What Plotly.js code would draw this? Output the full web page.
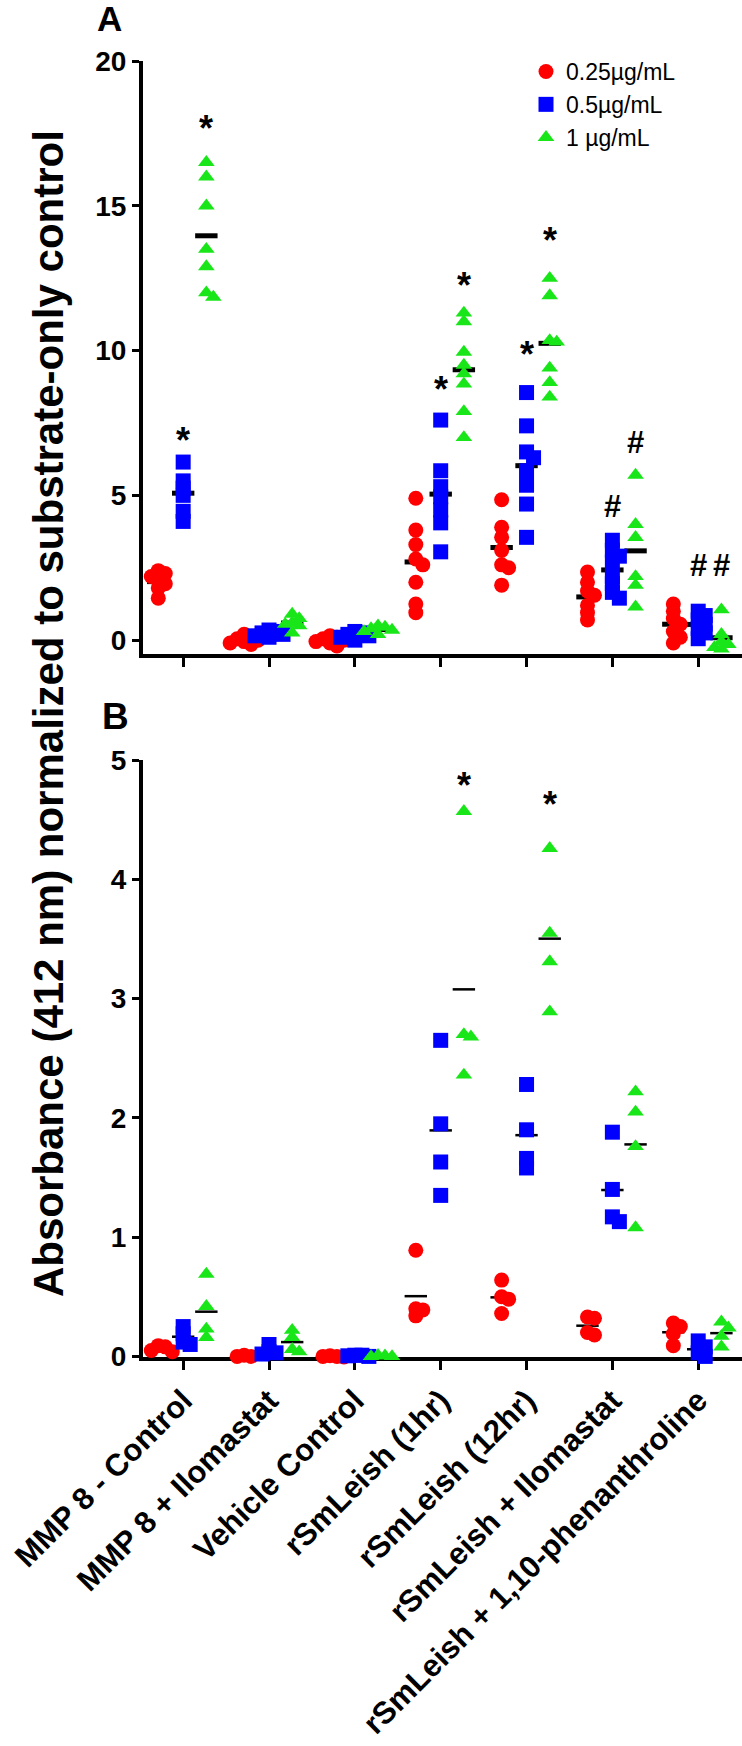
<!DOCTYPE html>
<html><head><meta charset="utf-8">
<script src="https://cdn.plot.ly/plotly-3.0.1.min.js"></script>
<style>html,body{margin:0;padding:0;background:#fff}#chart{width:742px;height:1746px}</style>
</head><body><div id="chart"></div>
<script>
const categories = ['MMP 8 - Control','MMP 8 + Ilomastat','Vehicle Control','rSmLeish (1hr)','rSmLeish (12hr)','rSmLeish + Ilomastat','rSmLeish + 1,10-phenanthroline'];
const seriesNames = ['0.25\u00b5g/mL','0.5\u00b5g/mL','1 \u00b5g/mL'];
const seriesColors = ['#ff0000','#0000ff','#19e619'];
const seriesSymbols = ['circle','square','triangle-up'];

// Panel A values (per category)
const aLow = [
 [2.4, 2.3, 2.2, 2.05, 1.95, 1.8, 1.45],
 [0.2, 0.1, 0.05, 0.0, -0.05, -0.1, -0.15],
 [0.15, 0.1, 0.05, 0.0, -0.05, -0.1, -0.2],
 [4.9, 3.8, 3.3, 2.8, 2.6, 2.0, 1.25, 0.95],
 [4.85, 3.9, 3.55, 3.1, 2.6, 2.5, 1.9],
 [2.35, 2.0, 1.7, 1.55, 1.2, 0.95, 0.7],
 [1.25, 1.0, 0.75, 0.55, 0.3, 0.1, -0.1]
];
const aMid = [
 [6.15, 5.5, 5.25, 5.0, 4.45, 4.1],
 [0.35, 0.3, 0.25, 0.2, 0.15, 0.1],
 [0.3, 0.25, 0.2, 0.15, 0.1, 0.0],
 [7.6, 5.85, 5.3, 4.95, 4.5, 4.05, 3.05],
 [8.55, 7.4, 6.5, 6.3, 5.85, 5.35, 4.7, 3.55],
 [3.45, 3.1, 2.9, 2.7, 2.2, 1.95, 1.65, 1.45],
 [1.0, 0.85, 0.7, 0.55, 0.4, 0.25, 0.05]
];
const aHigh = [
 [16.5, 16.0, 15.0, 13.5, 12.9, 12.0, 11.85],
 [0.9, 0.75, 0.6, 0.55, 0.5, 0.25],
 [0.5, 0.45, 0.4, 0.35, 0.3, 0.2],
 [11.3, 11.0, 9.95, 9.5, 9.2, 8.85, 7.9, 7.0],
 [12.5, 11.9, 10.35, 10.3, 9.4, 8.9, 8.4],
 [5.7, 4.0, 3.55, 2.2, 1.9, 1.15],
 [1.05, 0.2, -0.05, -0.15, -0.25, -0.3]
];
// Panel B values (per category)
const bLow = [
 [0.09, 0.08, 0.05, 0.04],
 [0.01, 0.0, 0.0, -0.01],
 [0.005, 0.0, 0.0, -0.005],
 [0.89, 0.40, 0.39, 0.34],
 [0.64, 0.50, 0.48, 0.36],
 [0.33, 0.32, 0.20, 0.18],
 [0.28, 0.25, 0.19, 0.09]
];
const bMid = [
 [0.25, 0.19, 0.12, 0.10],
 [0.10, 0.04, 0.03, 0.02],
 [0.01, 0.01, 0.005, 0.0],
 [2.65, 1.95, 1.63, 1.35],
 [2.28, 1.90, 1.66, 1.58],
 [1.88, 1.40, 1.17, 1.13],
 [0.13, 0.08, 0.03, 0.0]
];
const bHigh = [
 [0.69, 0.42, 0.23, 0.16],
 [0.22, 0.16, 0.06, 0.04],
 [0.01, 0.005, 0.0, 0.0],
 [4.57, 2.70, 2.68, 2.36],
 [4.26, 3.55, 3.31, 2.89],
 [2.22, 2.05, 1.76, 1.08],
 [0.29, 0.24, 0.17, 0.08]
];
// significance marks
const aMarkCat = [0, 0, 3, 3, 4, 4, 5, 5, 6, 6];
const aMarkSeries = [1, 2, 1, 2, 1, 2, 1, 2, 1, 2];
const aMarkText = ['*', '*', '*', '*', '*', '*', '#', '#', '#', '#'];
const aMarkY = [7.25, 18.0, 9.0, 12.6, 10.2, 14.15, 4.7, 6.9, 2.65, 2.65];
const bMarkCat = [3, 4];
const bMarkSeries = [2, 2];
const bMarkText = ['*', '*'];
const bMarkY = [4.87, 4.71];

const seriesOffset = [-0.29, 0, 0.27];
const FONT = 'Liberation Sans, Arial, Helvetica, sans-serif';

// layout geometry (px)
const W = 742, H = 1746, ML = 143, MT = 61, MB = 389;
const plotW = W - ML, plotH = H - MT - MB;
const xRange = [-0.468, 6.51];
const aRange = [-0.48, 20];
const bRange = [-0.005, 5];
const aDom = [0.5424, 1];
const bDom = [0, 0.4606];
const pxX = plotW / (xRange[1] - xRange[0]);
const pxYA = plotH * (aDom[1] - aDom[0]) / (aRange[1] - aRange[0]);
const pxYB = plotH * (bDom[1] - bDom[0]) / (bRange[1] - bRange[0]);

function swarm(vals, pxY) {
  const idx = vals.map((v, i) => i).sort((a, b) => vals[b] - vals[a]);
  const placed = [];
  const off = new Array(vals.length).fill(0);
  const steps = [0, 7, -7, 14, -14];
  idx.forEach(i => {
    let best = null, bestD = -1;
    for (const s of steps) {
      let md = Infinity;
      placed.forEach(p => {
        const dx = s - p.x, dy = (vals[i] - p.v) * pxY;
        md = Math.min(md, Math.sqrt(dx * dx + dy * dy));
      });
      if (md >= 7) { best = s; bestD = md; break; }
      if (md > bestD) { bestD = md; best = s; }
    }
    off[i] = best / pxX;
    placed.push({ x: best, v: vals[i] });
  });
  return off;
}
const mean = a => a.reduce((s, v) => s + v, 0) / a.length;

const traces = [];
function addPanel(data, xa, ya, pxY, meanW, showLeg) {
  data.forEach((ser, si) => {
    traces.push({
      type: 'scatter', mode: 'markers', xaxis: xa, yaxis: ya, showlegend: false, cliponaxis: false,
      x: ser.map((g, gi) => gi + seriesOffset[si]), y: ser.map(mean),
      marker: { symbol: 'line-ew', size: 16, line: { width: meanW, color: '#000' } }, hoverinfo: 'skip'
    });
  });
  data.forEach((ser, si) => {
    const xs = [], ys = [];
    ser.forEach((g, gi) => {
      const off = swarm(g, pxY);
      g.forEach((v, k) => { xs.push(gi + seriesOffset[si] + off[k]); ys.push(v); });
    });
    traces.push({
      type: 'scatter', mode: 'markers', xaxis: xa, yaxis: ya, name: seriesNames[si],
      showlegend: showLeg, cliponaxis: false, x: xs, y: ys,
      marker: { symbol: seriesSymbols[si], color: seriesColors[si], size: si === 2 ? 14.5 : 15, line: { width: 0 } }
    });
  });
}
addPanel([aLow, aMid, aHigh], 'x', 'y', pxYA, 5, true);
addPanel([bLow, bMid, bHigh], 'x2', 'y2', pxYB, 2.5, false);

const annotations = [];
function addMarks(cats, sers, texts, ys, xr, yr) {
  cats.forEach((c, i) => {
    const star = texts[i] === '*';
    annotations.push({
      xref: xr, yref: yr, x: c + seriesOffset[sers[i]], y: ys[i], text: texts[i], showarrow: false,
      xanchor: 'center', yanchor: 'middle', yshift: star ? -10 : -2,
      font: { family: FONT, size: star ? 36 : 31, color: '#000', weight: 700 }
    });
  });
}
addMarks(aMarkCat, aMarkSeries, aMarkText, aMarkY, 'x', 'y');
addMarks(bMarkCat, bMarkSeries, bMarkText, bMarkY, 'x2', 'y2');

annotations.push({ xref: 'paper', yref: 'paper', x: (48 - ML) / plotW, y: (H - MB - 714) / plotH,
  xanchor: 'center', yanchor: 'middle', textangle: -90, showarrow: false,
  text: 'Absorbance (412 nm) normalized to substrate-only control',
  font: { family: FONT, size: 42, color: '#000', weight: 700 } });
annotations.push({ xref: 'paper', yref: 'paper', x: (109 - ML) / plotW, y: 1 + (MT - 19) / plotH,
  xanchor: 'center', yanchor: 'middle', showarrow: false,
  text: 'A', font: { family: FONT, size: 35, color: '#000', weight: 700 } });
annotations.push({ xref: 'paper', yref: 'paper', x: (115 - ML) / plotW, y: (H - MB - 716) / plotH,
  xanchor: 'center', yanchor: 'middle', showarrow: false,
  text: 'B', font: { family: FONT, size: 37, color: '#000', weight: 700 } });

const axCommon = {
  showline: true, linewidth: 4, linecolor: '#000', ticks: 'outside', tickwidth: 3, tickcolor: '#000',
  showgrid: false, zeroline: false, layer: 'below traces',
  tickfont: { family: FONT, size: 28, color: '#000', weight: 700 }
};
const tickIdx = categories.map((c, i) => i);
const layout = {
  width: W, height: H, margin: { l: ML, r: 0, t: MT, b: MB },
  paper_bgcolor: '#fff', plot_bgcolor: '#fff', showlegend: true,
  font: { family: FONT, color: '#000' },
  xaxis: Object.assign({}, axCommon, { range: xRange, anchor: 'y', tickvals: tickIdx, showticklabels: false, ticklen: 9 }),
  yaxis: Object.assign({}, axCommon, { range: aRange, domain: aDom, anchor: 'x', tickvals: [0, 5, 10, 15, 20], ticklen: 7 }),
  xaxis2: Object.assign({}, axCommon, { range: xRange, anchor: 'y2', tickvals: tickIdx, ticktext: categories, tickangle: -45, ticklen: 9,
    ticklabeloverflow: 'allow',
    tickfont: { family: FONT, size: 31, color: '#000', weight: 700 } }),
  yaxis2: Object.assign({}, axCommon, { range: bRange, domain: bDom, anchor: 'x2', tickvals: [0, 1, 2, 3, 4, 5], ticklen: 7 }),
  legend: { x: (526 - ML) / plotW, y: 1 + (MT - 50) / plotH, xanchor: 'left', yanchor: 'top',
    font: { family: FONT, size: 23, color: '#000' }, bgcolor: 'rgba(0,0,0,0)', tracegroupgap: 0 },
  annotations: annotations
};
Plotly.newPlot('chart', traces, layout, { staticPlot: true, displayModeBar: false });
</script></body></html>
